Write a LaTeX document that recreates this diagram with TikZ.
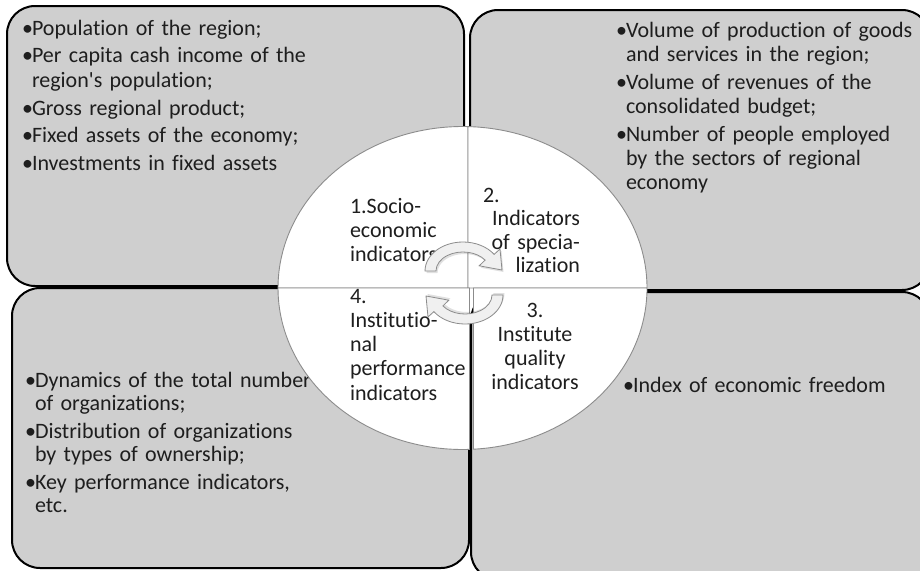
\documentclass[tikz,border=0pt]{standalone}
\usepackage{fontspec}
\setmainfont{Carlito}[Ligatures={NoCommon}]
\definecolor{boxgray}{HTML}{CFCFCF}
\definecolor{txt}{HTML}{1E1E1E}
\newcommand{\bul}{\makebox[10pt][l]{•}}
\newcommand{\ind}{\hspace*{10pt}}
\tikzset{
  panel/.style={draw=black, line width=2pt, fill=boxgray, rounded corners=28pt},
  quad/.style={fill=white, draw=black!45, line width=0.9pt},
  bodytext/.style={inner sep=0pt, outer sep=0pt, text=txt, font=\fontsize{22}{25}\selectfont, align=left},
  circtext/.style={inner sep=0pt, outer sep=0pt, text=txt, font=\fontsize{22}{24.3}\selectfont},
  cyc/.style={fill=black!6, draw=black!45, line width=0.8pt},
  cycshadow/.style={fill=black, opacity=0.12},
}
\begin{document}
\begin{tikzpicture}[x=1pt, y=-1pt]
\useasboundingbox (0,0) rectangle (920,570);
\clip (0,0) rectangle (920,570);

% four panels
\draw[panel] (7,6) rectangle (464,286);
\draw[panel] (470,10) rectangle (930,290);
\draw[panel] (12,288) rectangle (469,568);
\draw[panel] (471,292) rectangle (930,580);

% panel texts
\node[bodytext, text width=330pt, anchor=base west] (tl) at (22,35)
  {\bul Population of the region;\\[2.5pt]
   \bul Per capita cash income of the\\
   \ind region\textquotesingle s population;\\[2.5pt]
   \bul Gross regional product;\\[2.5pt]
   \bul Fixed assets of the economy;\\[2.5pt]
   \bul Investments in fixed assets};
\node[bodytext, text width=320pt, anchor=base west, font=\fontsize{22}{24.3}\selectfont] (tr) at (616,37)
  {\bul Volume of production of goods\\
   \ind and services in the region;\\[3.5pt]
   \bul Volume of revenues of the\\
   \ind consolidated budget;\\[3.5pt]
   \bul Number of people employed\\
   \ind by the sectors of regional\\
   \ind economy};
\node[bodytext, text width=330pt, anchor=base west, font=\fontsize{22}{23.5}\selectfont] (bl) at (25,387)
  {\bul Dynamics of the total number\\
   \ind of organizations;\\[4pt]
   \bul Distribution of organizations\\
   \ind by types of ownership;\\[4pt]
   \bul Key performance indicators,\\
   \ind etc.};
\node[bodytext, text width=300pt, anchor=base west] (br) at (623,392)
  {\bul Index of economic freedom};

% central ellipse split in four
\begin{scope}[shift={(462.5,288)}, yscale=-1]
  \draw[quad] (5.5,0) -- (-184.5,0) arc[start angle=180, end angle=88.29, x radius=184.5, y radius=161.5] -- cycle;
  \draw[quad] (5.5,0) -- (184.5,0) arc[start angle=0, end angle=88.29, x radius=184.5, y radius=161.5] -- cycle;
  \draw[quad] (11,0) -- (184.5,0) arc[start angle=0, end angle=-86.58, x radius=184.5, y radius=161.5] -- cycle;
  \draw[quad] (7,0) -- (-184.5,0) arc[start angle=180, end angle=272.17, x radius=184.5, y radius=161.5] -- cycle;
\end{scope}

% quadrant texts
\node[circtext, text width=120pt, align=left, anchor=base west] (q1) at (350,213)
  {1.Socio-\\economic\\indicators};
\node[circtext, text width=97pt, align=right, anchor=base east, font=\fontsize{22}{23.5}\selectfont] (q2) at (580,202)
  {\makebox[97pt][l]{2.}\\Indicators\\of specia-\\lization};
\node[circtext, text width=110pt, align=center, anchor=base] (q3) at (535,317)
  {3.\\Institute\\quality\\indicators};
\node[circtext, text width=130pt, align=left, anchor=base west] (q4) at (350,303)
  {4.\\Institutio-\\nal\\performance\\indicators};

% circular arrows
\begin{scope}[shift={(463,271)}, yscale=-1]
  \fill[cycshadow, shift={(1.5,-2)}] (-38,0) arc[start angle=180, end angle=35, x radius=38, y radius=29]
    -- (37,22) -- (39,1) -- (16.2,5.2) -- (22.1,10.9)
    arc[start angle=35, end angle=180, x radius=27, y radius=19] -- cycle;
  \draw[cyc] (-38,0) arc[start angle=180, end angle=35, x radius=38, y radius=29]
    -- (37,22) -- (39,1) -- (16.2,5.2) -- (22.1,10.9)
    arc[start angle=35, end angle=180, x radius=27, y radius=19] -- cycle;
\end{scope}
\begin{scope}[shift={(465,295)}, yscale=-1, rotate=180]
  \fill[cycshadow, shift={(-1.5,-2)}] (-38,0) arc[start angle=180, end angle=35, x radius=38, y radius=29]
    -- (37,22) -- (39,1) -- (16.2,5.2) -- (22.1,10.9)
    arc[start angle=35, end angle=180, x radius=27, y radius=19] -- cycle;
  \draw[cyc] (-38,0) arc[start angle=180, end angle=35, x radius=38, y radius=29]
    -- (37,22) -- (39,1) -- (16.2,5.2) -- (22.1,10.9)
    arc[start angle=35, end angle=180, x radius=27, y radius=19] -- cycle;
\end{scope}
\end{tikzpicture}
\end{document}
